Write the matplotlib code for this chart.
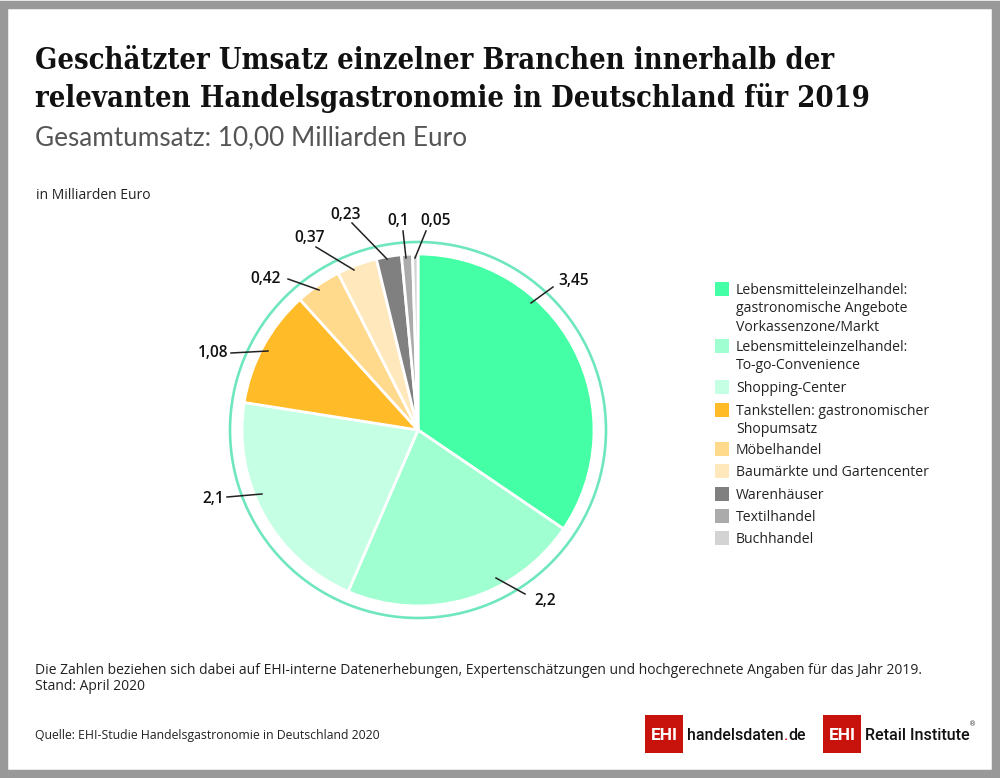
import matplotlib
matplotlib.use('Agg')
import matplotlib.pyplot as plt
from matplotlib.patches import Circle, Rectangle

# Revenue per sector in billion euro
categories = [
    'Lebensmitteleinzelhandel:\ngastronomische Angebote\nVorkassenzone/Markt',
    'Lebensmitteleinzelhandel:\nTo-go-Convenience',
    'Shopping-Center',
    'Tankstellen: gastronomischer\nShopumsatz',
    'Möbelhandel',
    'Baumärkte und Gartencenter',
    'Warenhäuser',
    'Textilhandel',
    'Buchhandel',
]
values = [3.45, 2.2, 2.1, 1.08, 0.42, 0.37, 0.23, 0.1, 0.05]
value_labels = ['3,45', '2,2', '2,1', '1,08', '0,42', '0,37', '0,23', '0,1', '0,05']
colors = ['#44FFA5', '#A0FFD0', '#C5FFE4', '#FFBB28', '#FFD98C', '#FFE8BC',
          '#808080', '#ABABAB', '#D3D3D3']

W, H = 1000, 778
BODY = 'Open Sans'
LOGO = 'Roboto'


def Y(y):
    # picture rows run downwards, the axes runs upwards
    return H - y


fig = plt.figure(figsize=(W / 100, H / 100), dpi=100)
ax = fig.add_axes([0, 0, 1, 1])

# Pie and the thin ring around it
cx, cy, radius = 418, 430, 176
ax.pie(values, colors=colors, startangle=90, counterclock=False, radius=radius,
       center=(cx, Y(cy)), wedgeprops={'edgecolor': 'white', 'linewidth': 2.0})
ax.add_patch(Circle((cx, Y(cy)), 188, fill=False, edgecolor='#6FE7BC', linewidth=1.9))

ax.set_xlim(0, W)
ax.set_ylim(0, H)
ax.set_aspect('auto')
ax.axis('off')

# Grey frame around the whole picture
ax.add_patch(Rectangle((4, 4.5), W - 8, H - 9, fill=False, edgecolor='#999999', linewidth=6.1))

# Headings
ax.text(35, Y(60), 'Geschätzter Umsatz einzelner Branchen innerhalb der', family='DejaVu Serif',
        stretch='condensed', weight='bold', fontsize=20.9, color='#111111', va='center')
ax.text(35, Y(98), 'relevanten Handelsgastronomie in Deutschland für 2019', family='DejaVu Serif',
        stretch='condensed', weight='bold', fontsize=20.9, color='#111111', va='center')
ax.text(35, Y(138), 'Gesamtumsatz: 10,00 Milliarden Euro', family='Lato', weight='normal',
        fontsize=18.8, color='#555555', va='center')
ax.text(36, Y(195), 'in Milliarden Euro', family=BODY, fontsize=10, color='#222222', va='center')

# Value labels with their leader lines
label_pos = [(574, 281), (545, 601), (213, 499), (213, 353), (266, 279), (310, 238),
             (346, 215), (398, 221), (436, 221)]
leader_ends = [((553, 287), (531, 303)), ((525, 594), (496, 578)), ((227, 497), (262, 494)),
               ((231, 353), (268, 351)), ((288, 279), (319, 290)), ((316, 247), (354, 270)),
               ((352, 223), (387, 259)), ((403, 231), (406, 258)), ((426, 231), (415, 258))]
for text, pos, (a, b) in zip(value_labels, label_pos, leader_ends):
    ax.text(pos[0], Y(pos[1]), text, family=BODY, fontsize=11.2, weight='semibold',
            color='#111111', ha='center', va='center')
    ax.plot([a[0], b[0]], [Y(a[1]), Y(b[1])], color='#222222', lw=1.1)

# Legend
legend_rows = [289, 346, 387, 410, 449, 471, 494, 516, 538]
for name, color, row in zip(categories, colors, legend_rows):
    ax.add_patch(Rectangle((715, Y(row + 7)), 14, 14, facecolor=color, edgecolor='none'))
    ax.text(736, Y(row - 6), name, family=BODY, fontsize=10.1, color='#222222', va='top',
            linespacing=1.3)

# Notes
ax.text(35, Y(670), 'Die Zahlen beziehen sich dabei auf EHI-interne Datenerhebungen, '
        'Expertenschätzungen und hochgerechnete Angaben für das Jahr 2019.',
        family=BODY, fontsize=9.98, color='#222222', va='center')
ax.text(35, Y(687), 'Stand: April 2020', family=BODY, fontsize=9.98, color='#222222', va='center')
ax.text(35, Y(736), 'Quelle: EHI-Studie Handelsgastronomie in Deutschland 2020', family=BODY,
        fontsize=8.85, color='#222222', va='center')

# Logos
for left in (645, 823):
    ax.add_patch(Rectangle((left, Y(753)), 38, 38, facecolor='#C8130D', edgecolor='none'))
    ax.text(left + 19, Y(735), 'EHI', family='Roboto', weight='bold', fontsize=12.5,
            color='white', ha='center', va='center')
brand = ax.text(687, Y(740), 'handelsdaten', family=LOGO, weight='medium', fontsize=11.4,
                color='#111111', va='baseline')
dot = ax.annotate('.', xy=(1, 0), xycoords=brand, family=LOGO, weight='medium', fontsize=11.4,
                  color='#C8130D', va='bottom')
ax.annotate('de', xy=(1, 0), xycoords=dot, family=LOGO, weight='medium', fontsize=11.4,
            color='#111111', va='bottom')
ax.text(865, Y(740), 'Retail Institute', family=LOGO, weight='medium', fontsize=11.6,
        color='#111111', va='baseline')
ax.text(973, Y(724), '®', family='DejaVu Sans', fontsize=5, color='#333333', ha='center', va='center')

fig.savefig('out.png', dpi=100, facecolor='white')
